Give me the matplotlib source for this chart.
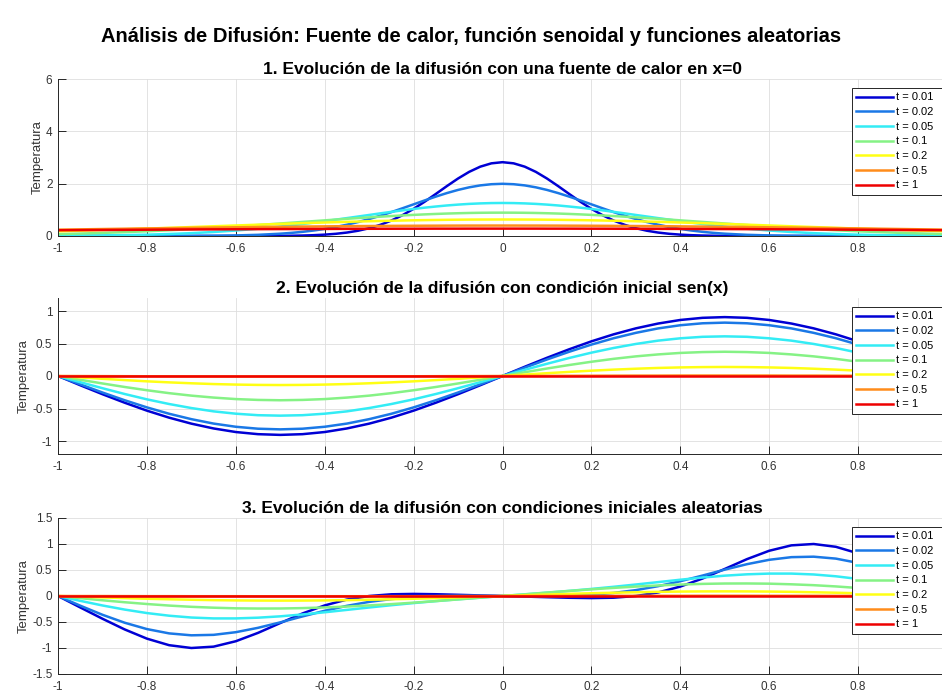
import matplotlib
matplotlib.use('Agg')
import matplotlib.pyplot as plt

plt.rcParams['font.family'] = ['Liberation Sans', 'DejaVu Sans']

# ---------------- data ----------------
suptitle = 'Análisis de Difusión: Fuente de calor, función senoidal y funciones aleatorias'
titles = ['1. Evolución de la difusión con una fuente de calor en x=0',
          '2. Evolución de la difusión con condición inicial sen(x)',
          '3. Evolución de la difusión con condiciones iniciales aleatorias']
ylabel = 'Temperatura'
t_labels = ['t = 0.01', 't = 0.02', 't = 0.05', 't = 0.1', 't = 0.2', 't = 0.5', 't = 1']
line_colors = ['#0000d4', '#1a78e6', '#33ecf5', '#85f285', '#ffff14', '#ff8c1a', '#ee0000']

x_ticks = [-1, -0.8, -0.6, -0.4, -0.2, 0, 0.2, 0.4, 0.6, 0.8]
x_ticklabels = ['-1', '-0.8', '-0.6', '-0.4', '-0.2', '0', '0.2', '0.4', '0.6', '0.8']
y_ticks_1 = [0, 2, 4, 6]
y_ticklabels_1 = ['0', '2', '4', '6']
y_ticks_2 = [-1, -0.5, 0, 0.5, 1]
y_ticklabels_2 = ['-1', '-0.5', '0', '0.5', '1']
y_ticks_3 = [-1.5, -1, -0.5, 0, 0.5, 1, 1.5]
y_ticklabels_3 = ['-1.5', '-1', '-0.5', '0', '0.5', '1', '1.5']

# Panel 1: heat source at x=0
x_p1 = [-1, -0.95, -0.9, -0.85, -0.8, -0.75, -0.7, -0.65, -0.6, -0.55,
        -0.5, -0.475, -0.45, -0.425, -0.4, -0.375, -0.35, -0.325, -0.3, -0.275,
        -0.25, -0.225, -0.2, -0.175, -0.15, -0.125, -0.1, -0.075, -0.05, -0.025,
        0,
        0.025, 0.05, 0.075, 0.1, 0.125, 0.15, 0.175, 0.2, 0.225, 0.25,
        0.275, 0.3, 0.325, 0.35, 0.375, 0.4, 0.425, 0.45, 0.475, 0.5,
        0.55, 0.6, 0.65, 0.7, 0.75, 0.8, 0.85, 0.9, 0.95, 1]
p1_t001 = [0, 0, 0, 0, 0, 0, 0, 0, 0, 0.001,
           0.005, 0.010, 0.018, 0.031, 0.052, 0.084, 0.132, 0.201, 0.297, 0.426,
           0.591, 0.796, 1.038, 1.312, 1.607, 1.909, 2.197, 2.451, 2.650, 2.777,
           2.821,
           2.777, 2.650, 2.451, 2.197, 1.909, 1.607, 1.312, 1.038, 0.796, 0.591,
           0.426, 0.297, 0.201, 0.132, 0.084, 0.052, 0.031, 0.018, 0.010, 0.005,
           0.001, 0, 0, 0, 0, 0, 0, 0, 0, 0]
p1_t002 = [0, 0, 0, 0, 0.001, 0.002, 0.004, 0.010, 0.022, 0.045,
           0.088, 0.119, 0.159, 0.209, 0.270, 0.344, 0.432, 0.533, 0.648, 0.775,
           0.913, 1.060, 1.210, 1.360, 1.506, 1.641, 1.761, 1.860, 1.934, 1.979,
           1.995,
           1.979, 1.934, 1.860, 1.761, 1.641, 1.506, 1.360, 1.210, 1.060, 0.913,
           0.775, 0.648, 0.533, 0.432, 0.344, 0.270, 0.209, 0.159, 0.119, 0.088,
           0.045, 0.022, 0.010, 0.004, 0.002, 0.001, 0, 0, 0, 0]
p1_t005 = [0.008, 0.014, 0.022, 0.034, 0.051, 0.076, 0.109, 0.153, 0.209, 0.278,
           0.361, 0.408, 0.458, 0.511, 0.567, 0.625, 0.684, 0.744, 0.804, 0.865,
           0.923, 0.980, 1.033, 1.083, 1.127, 1.167, 1.200, 1.227, 1.246, 1.258,
           1.262,
           1.258, 1.246, 1.227, 1.200, 1.167, 1.127, 1.083, 1.033, 0.980, 0.923,
           0.865, 0.804, 0.744, 0.684, 0.625, 0.567, 0.511, 0.458, 0.408, 0.361,
           0.278, 0.209, 0.153, 0.109, 0.076, 0.051, 0.034, 0.022, 0.014, 0.008]
p1_t01 = [0.073, 0.093, 0.118, 0.147, 0.180, 0.219, 0.262, 0.310, 0.363, 0.419,
          0.478, 0.508, 0.538, 0.568, 0.598, 0.628, 0.657, 0.685, 0.712, 0.738,
          0.763, 0.786, 0.807, 0.826, 0.843, 0.858, 0.870, 0.880, 0.887, 0.891,
          0.892,
          0.891, 0.887, 0.880, 0.870, 0.858, 0.843, 0.826, 0.807, 0.786, 0.763,
          0.738, 0.712, 0.685, 0.657, 0.628, 0.598, 0.568, 0.538, 0.508, 0.478,
          0.419, 0.363, 0.310, 0.262, 0.219, 0.180, 0.147, 0.118, 0.093, 0.073]
p1_t02 = [0.181, 0.204, 0.229, 0.256, 0.283, 0.312, 0.342, 0.372, 0.402, 0.432,
          0.461, 0.476, 0.490, 0.503, 0.516, 0.529, 0.541, 0.553, 0.564, 0.574,
          0.583, 0.592, 0.600, 0.607, 0.613, 0.619, 0.623, 0.627, 0.629, 0.630,
          0.631,
          0.630, 0.629, 0.627, 0.623, 0.619, 0.613, 0.607, 0.600, 0.592, 0.583,
          0.574, 0.564, 0.553, 0.541, 0.529, 0.516, 0.503, 0.490, 0.476, 0.461,
          0.432, 0.402, 0.372, 0.342, 0.312, 0.283, 0.256, 0.229, 0.204, 0.181]
p1_t05 = [0.242, 0.254, 0.266, 0.278, 0.290, 0.301, 0.312, 0.323, 0.333, 0.343,
          0.352, 0.356, 0.361, 0.364, 0.368, 0.372, 0.375, 0.378, 0.381, 0.384,
          0.387, 0.389, 0.391, 0.393, 0.394, 0.396, 0.397, 0.398, 0.398, 0.399,
          0.399,
          0.399, 0.398, 0.398, 0.397, 0.396, 0.394, 0.393, 0.391, 0.389, 0.387,
          0.384, 0.381, 0.378, 0.375, 0.372, 0.368, 0.364, 0.361, 0.356, 0.352,
          0.343, 0.333, 0.323, 0.312, 0.301, 0.290, 0.278, 0.266, 0.254, 0.242]
p1_t1 = [0.220, 0.225, 0.230, 0.235, 0.240, 0.245, 0.250, 0.254, 0.258, 0.262,
         0.265, 0.266, 0.268, 0.270, 0.271, 0.272, 0.274, 0.275, 0.276, 0.277,
         0.278, 0.279, 0.279, 0.280, 0.281, 0.281, 0.281, 0.282, 0.282, 0.282,
         0.282,
         0.282, 0.282, 0.282, 0.281, 0.281, 0.281, 0.280, 0.279, 0.279, 0.278,
         0.277, 0.276, 0.275, 0.274, 0.272, 0.271, 0.270, 0.268, 0.266, 0.265,
         0.262, 0.258, 0.254, 0.250, 0.245, 0.240, 0.235, 0.230, 0.225, 0.220]

# Panels 2 and 3 share x positions
x_p23 = [-1, -0.95, -0.9, -0.85, -0.8, -0.75, -0.7, -0.65, -0.6, -0.55,
         -0.5, -0.45, -0.4, -0.35, -0.3, -0.25, -0.2, -0.15, -0.1, -0.05,
         0,
         0.05, 0.1, 0.15, 0.2, 0.25, 0.3, 0.35, 0.4, 0.45, 0.5,
         0.55, 0.6, 0.65, 0.7, 0.75, 0.8, 0.85, 0.9, 0.95, 1]

# Panel 2: initial condition sen(x)
p2_t001 = [0, -0.142, -0.280, -0.411, -0.533, -0.641, -0.733, -0.807, -0.862, -0.895,
           -0.906, -0.895, -0.862, -0.807, -0.733, -0.641, -0.533, -0.411, -0.280, -0.142,
           0,
           0.142, 0.280, 0.411, 0.533, 0.641, 0.733, 0.807, 0.862, 0.895, 0.906,
           0.895, 0.862, 0.807, 0.733, 0.641, 0.533, 0.411, 0.280, 0.142, 0]
p2_t002 = [0, -0.128, -0.254, -0.373, -0.483, -0.581, -0.664, -0.732, -0.781, -0.811,
           -0.821, -0.811, -0.781, -0.732, -0.664, -0.581, -0.483, -0.373, -0.254, -0.128,
           0,
           0.128, 0.254, 0.373, 0.483, 0.581, 0.664, 0.732, 0.781, 0.811, 0.821,
           0.811, 0.781, 0.732, 0.664, 0.581, 0.483, 0.373, 0.254, 0.128, 0]
p2_t005 = [0, -0.095, -0.188, -0.277, -0.359, -0.431, -0.493, -0.544, -0.580, -0.603,
           -0.610, -0.603, -0.580, -0.544, -0.493, -0.431, -0.359, -0.277, -0.188, -0.095,
           0,
           0.095, 0.188, 0.277, 0.359, 0.431, 0.493, 0.544, 0.580, 0.603, 0.610,
           0.603, 0.580, 0.544, 0.493, 0.431, 0.359, 0.277, 0.188, 0.095, 0]
p2_t01 = [0, -0.058, -0.115, -0.169, -0.219, -0.264, -0.302, -0.332, -0.355, -0.368,
          -0.373, -0.368, -0.355, -0.332, -0.302, -0.264, -0.219, -0.169, -0.115, -0.058,
          0,
          0.058, 0.115, 0.169, 0.219, 0.264, 0.302, 0.332, 0.355, 0.368, 0.373,
          0.368, 0.355, 0.332, 0.302, 0.264, 0.219, 0.169, 0.115, 0.058, 0]
p2_t02 = [0, -0.022, -0.043, -0.063, -0.082, -0.098, -0.112, -0.124, -0.132, -0.137,
          -0.139, -0.137, -0.132, -0.124, -0.112, -0.098, -0.082, -0.063, -0.043, -0.022,
          0,
          0.022, 0.043, 0.063, 0.082, 0.098, 0.112, 0.124, 0.132, 0.137, 0.139,
          0.137, 0.132, 0.124, 0.112, 0.098, 0.082, 0.063, 0.043, 0.022, 0]
p2_t05 = [0, -0.001, -0.002, -0.003, -0.004, -0.005, -0.006, -0.006, -0.007, -0.007,
          -0.007, -0.007, -0.007, -0.006, -0.006, -0.005, -0.004, -0.003, -0.002, -0.001,
          0,
          0.001, 0.002, 0.003, 0.004, 0.005, 0.006, 0.006, 0.007, 0.007, 0.007,
          0.007, 0.007, 0.006, 0.006, 0.005, 0.004, 0.003, 0.002, 0.001, 0]
p2_t1 = [0] * 41

# Panel 3: random initial conditions
p3_t001 = [0, -0.220, -0.437, -0.643, -0.820, -0.946, -1.000, -0.974, -0.870, -0.709,
           -0.520, -0.336, -0.181, -0.068, 0.000, 0.033, 0.040, 0.034, 0.023, 0.011,
           0,
           -0.011, -0.023, -0.034, -0.040, -0.033, 0.000, 0.068, 0.181, 0.336, 0.520,
           0.709, 0.870, 0.974, 1.000, 0.946, 0.820, 0.643, 0.437, 0.220, 0]
p3_t002 = [0, -0.186, -0.361, -0.514, -0.636, -0.719, -0.756, -0.747, -0.696, -0.612,
           -0.507, -0.393, -0.284, -0.189, -0.113, -0.059, -0.023, -0.004, 0.004, 0.004,
           0,
           -0.004, -0.004, 0.004, 0.023, 0.059, 0.113, 0.189, 0.284, 0.393, 0.507,
           0.612, 0.696, 0.747, 0.756, 0.719, 0.636, 0.514, 0.361, 0.186, 0]
p3_t005 = [0, -0.093, -0.182, -0.261, -0.328, -0.379, -0.414, -0.431, -0.431, -0.417,
           -0.391, -0.355, -0.313, -0.267, -0.221, -0.177, -0.136, -0.098, -0.063, -0.031,
           0,
           0.031, 0.063, 0.098, 0.136, 0.177, 0.221, 0.267, 0.313, 0.355, 0.391,
           0.417, 0.431, 0.431, 0.414, 0.379, 0.328, 0.261, 0.182, 0.093, 0]
p3_t01 = [0, -0.042, -0.082, -0.120, -0.154, -0.184, -0.208, -0.225, -0.237, -0.241,
          -0.240, -0.233, -0.220, -0.203, -0.181, -0.156, -0.128, -0.098, -0.066, -0.033,
          0,
          0.033, 0.066, 0.098, 0.128, 0.156, 0.181, 0.203, 0.220, 0.233, 0.240,
          0.241, 0.237, 0.225, 0.208, 0.184, 0.154, 0.120, 0.082, 0.042, 0]
p3_t02 = [0, -0.014, -0.028, -0.041, -0.053, -0.063, -0.072, -0.080, -0.085, -0.088,
          -0.089, -0.088, -0.085, -0.080, -0.072, -0.063, -0.053, -0.041, -0.028, -0.014,
          0,
          0.014, 0.028, 0.041, 0.053, 0.063, 0.072, 0.080, 0.085, 0.088, 0.089,
          0.088, 0.085, 0.080, 0.072, 0.063, 0.053, 0.041, 0.028, 0.014, 0]
p3_t05 = [0, -0.001, -0.001, -0.002, -0.003, -0.003, -0.004, -0.004, -0.004, -0.005,
          -0.005, -0.005, -0.004, -0.004, -0.004, -0.003, -0.003, -0.002, -0.001, -0.001,
          0,
          0.001, 0.001, 0.002, 0.003, 0.003, 0.004, 0.004, 0.004, 0.005, 0.005,
          0.005, 0.004, 0.004, 0.004, 0.003, 0.003, 0.002, 0.001, 0.001, 0]
p3_t1 = [0] * 41

panels = [
    (x_p1, [p1_t001, p1_t002, p1_t005, p1_t01, p1_t02, p1_t05, p1_t1], (0, 6), y_ticks_1, y_ticklabels_1),
    (x_p23, [p2_t001, p2_t002, p2_t005, p2_t01, p2_t02, p2_t05, p2_t1], (-1.2, 1.2), y_ticks_2, y_ticklabels_2),
    (x_p23, [p3_t001, p3_t002, p3_t005, p3_t01, p3_t02, p3_t05, p3_t1], (-1.5, 1.5), y_ticks_3, y_ticklabels_3),
]

# ---------------- figure ----------------
W, H = 942, 698
fig = plt.figure(figsize=(W / 100, H / 100), dpi=100)

ax_px = [(58, 79, 947, 236), (58, 298, 947, 454), (58, 518, 947, 674)]
leg_top_px = [88, 307, 527]
axis_col = '#262626'

for i, (xs, series, ylim, yt, ytl) in enumerate(panels):
    l, t, r, b = ax_px[i]
    ax = fig.add_axes([l / W, 1 - b / H, (r - l) / W, (b - t) / H])
    for ys, c, lab in zip(series, line_colors, t_labels):
        ax.plot(xs, ys, color=c, lw=1.8, label=lab, solid_joinstyle='round')
    ax.set_xlim(-1, 1)
    ax.set_ylim(*ylim)
    ax.set_xticks(x_ticks)
    ax.set_xticklabels(x_ticklabels)
    ax.set_yticks(yt)
    ax.set_yticklabels(ytl)
    ax.grid(True, color='#dedede', lw=0.6)
    ax.set_axisbelow(True)
    for s in ['top', 'right']:
        ax.spines[s].set_visible(False)
    for s in ['left', 'bottom']:
        ax.spines[s].set_color(axis_col)
        ax.spines[s].set_linewidth(0.7)
    ax.tick_params(direction='in', length=5.8, width=0.7, color=axis_col,
                   labelcolor='#333333', labelsize=8.5)
    ax.tick_params(axis='x', pad=5)
    ax.tick_params(axis='y', pad=4)
    ax.set_ylabel(ylabel, fontsize=9.5, color='#333333', labelpad=1.5)
    ax.set_title(titles[i], fontsize=12.5, fontweight='bold', pad=3.5)
    top_frac = 1 - (leg_top_px[i] - t) / (b - t)
    x0 = (852 - l) / (r - l)
    leg = ax.legend(loc='upper left', bbox_to_anchor=(x0, 0.0, 0.12, top_frac),
                    mode='expand', borderaxespad=0, fontsize=8,
                    handlelength=3.3, handletextpad=0.3, labelspacing=0.42,
                    borderpad=0.4, fancybox=False, framealpha=1,
                    edgecolor='#262626')
    leg.get_frame().set_linewidth(0.7)

fig.suptitle(suptitle, fontsize=14.5, fontweight='bold', y=1 - 37 / H, va='center')

fig.savefig('out.png', dpi=100)
